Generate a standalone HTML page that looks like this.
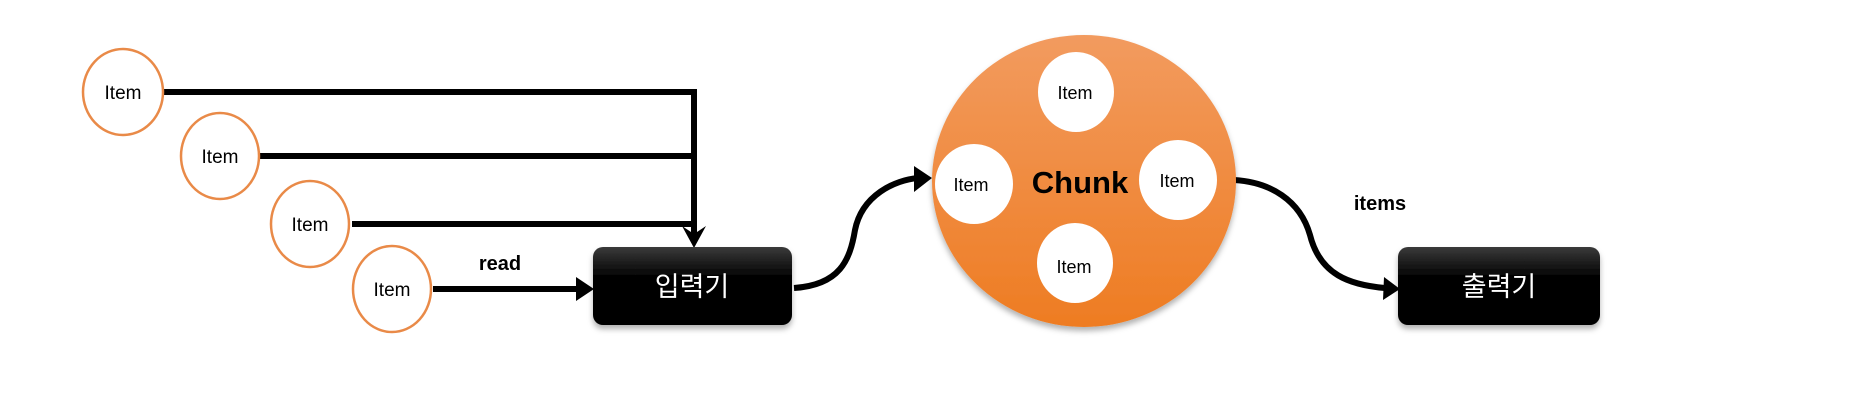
<!DOCTYPE html>
<html><head><meta charset="utf-8"><style>
html,body{margin:0;padding:0;background:#fff;}
svg{display:block;}
text{font-family:"Liberation Sans","Noto Sans CJK KR",sans-serif;}
</style></head><body>
<svg width="1870" height="408" viewBox="0 0 1870 408" xmlns="http://www.w3.org/2000/svg">
<defs>
<linearGradient id="bx" x1="0" y1="0" x2="0" y2="1"><stop offset="0" stop-color="#3a3a3a"/><stop offset="0.4" stop-color="#000"/><stop offset="1" stop-color="#000"/></linearGradient>
<linearGradient id="og" x1="0" y1="0" x2="0" y2="1"><stop offset="0" stop-color="#f29b5f"/><stop offset="1" stop-color="#ee7c22"/></linearGradient>
<marker id="ar" markerWidth="10" markerHeight="10" refX="7" refY="5" orient="auto" markerUnits="userSpaceOnUse"><path d="M0,0 L10,5 L0,10 Z" fill="#000"/></marker>
<filter id="sh" x="-10%" y="-10%" width="120%" height="140%"><feDropShadow dx="0" dy="4" stdDeviation="3" flood-color="#000" flood-opacity="0.3"/></filter>
</defs>
<g stroke="#000" stroke-width="6" fill="none">
<path d="M163,92 H694 V238"/>
<path d="M260,156 H694"/>
<path d="M352,224 H694"/>
<path d="M433,289 H580"/>
<path d="M794,288 C840,285 850,260 855,230 C862,195 895,180 918,178"/>
<path d="M1234,180 C1270,182 1300,200 1310,235 C1320,275 1350,285 1385,288"/>
</g>
<path d="M682,226 L694,248 L706,226 L694,234 Z" fill="#000"/>
<path d="M576,277 L594,289 L576,301 Z" fill="#000"/>
<path d="M914,166 L932,178 L914,192 Z" fill="#000"/>
<path d="M1384,277 L1400,289 L1383,300 Z" fill="#000"/>
<g fill="#fff" stroke="#e98a48" stroke-width="2.5">
<ellipse cx="123" cy="92" rx="40" ry="43"/>
<ellipse cx="220" cy="156" rx="39" ry="43"/>
<ellipse cx="310" cy="224" rx="39" ry="43"/>
<ellipse cx="392" cy="289" rx="39" ry="43"/>
</g>
<g font-size="19" text-anchor="middle" fill="#000">
<text x="123" y="99">Item</text>
<text x="220" y="163">Item</text>
<text x="310" y="231">Item</text>
<text x="392" y="296">Item</text>
</g>
<text x="500" y="270" font-size="20" font-weight="bold" text-anchor="middle">read</text>
<rect x="593" y="247" width="199" height="78" rx="10" fill="url(#bx)" filter="url(#sh)"/>
<text x="692" y="296" font-size="27" fill="#fff" text-anchor="middle">입력기</text>
<ellipse cx="1084" cy="181" rx="152" ry="146" fill="url(#og)" filter="url(#sh)"/>
<g fill="#fff">
<ellipse cx="1076" cy="92" rx="38" ry="40"/>
<ellipse cx="974" cy="184" rx="39" ry="40"/>
<ellipse cx="1178" cy="180" rx="39" ry="40"/>
<ellipse cx="1075" cy="263" rx="38" ry="40"/>
</g>
<g font-size="18" text-anchor="middle" fill="#000">
<text x="1075" y="99">Item</text>
<text x="971" y="191">Item</text>
<text x="1177" y="187">Item</text>
<text x="1074" y="273">Item</text>
</g>
<text x="1080" y="193" font-size="31" font-weight="bold" text-anchor="middle">Chunk</text>
<text x="1380" y="210" font-size="20" font-weight="bold" text-anchor="middle">items</text>
<rect x="1398" y="247" width="202" height="78" rx="10" fill="url(#bx)" filter="url(#sh)"/>
<text x="1499" y="296" font-size="27" fill="#fff" text-anchor="middle">출력기</text>
</svg>
</body></html>
